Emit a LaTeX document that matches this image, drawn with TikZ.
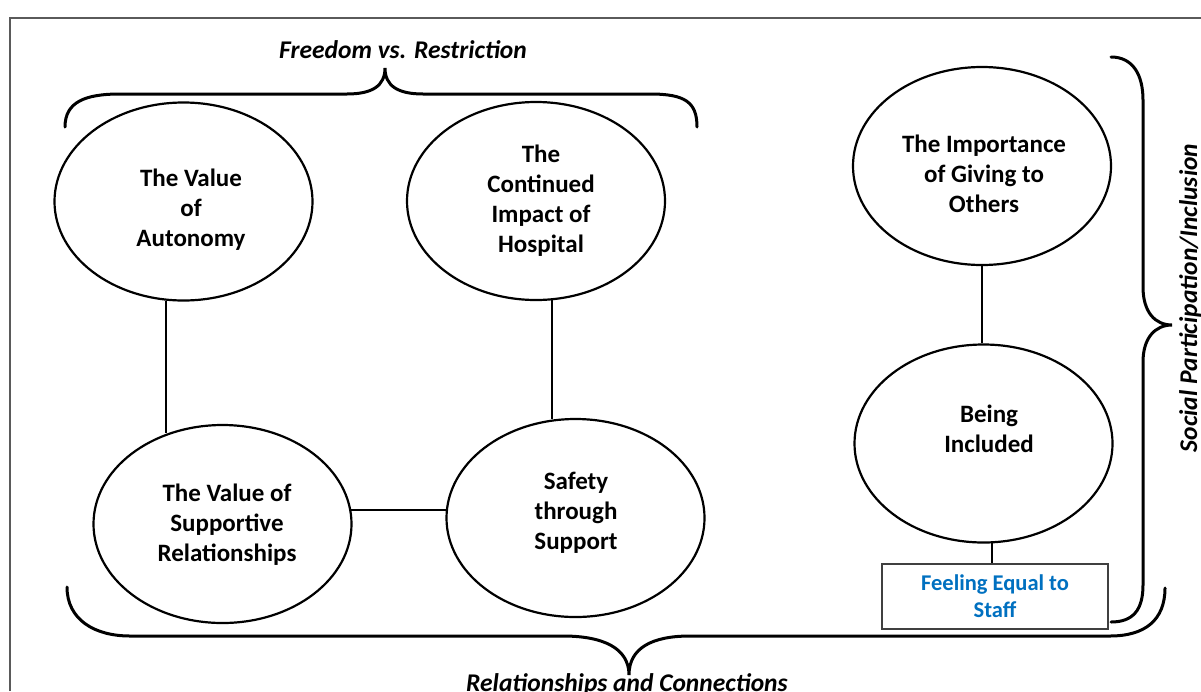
\documentclass[tikz,border=0pt]{standalone}
\usepackage{fontspec}
\setmainfont{Carlito}
\usetikzlibrary{shapes.geometric}
\definecolor{framegray}{HTML}{5A5A5A}
\definecolor{boxgray}{HTML}{404040}
\definecolor{wordblue}{HTML}{0070C0}
\tikzset{
  theme/.style={ellipse, draw=black, line width=2.2pt, inner sep=0pt,
    minimum width=258pt, minimum height=198pt},
  themetext/.style={align=center, font=\bfseries\fontsize{25}{30}\selectfont, inner sep=0pt},
  bracelabel/.style={font=\bfseries\itshape\fontsize{25.5}{28}\selectfont, inner sep=0pt},
  link/.style={line width=2pt},
  bracepath/.style={line width=3pt, line cap=round},
}
\begin{document}
\begin{tikzpicture}[x=1pt, y=-1pt]
\useasboundingbox (0,0) rectangle (1201,691);
% frame
\draw[framegray, line width=1.3pt] (10,691) -- (10,18) -- (1201,18);

% ellipses
\node[theme] (auto) at (183.5,201.5) {};
\node[theme] (hosp) at (536,201) {};
\node[theme] (give) at (982,166) {};
\node[theme] (incl) at (983.5,443.5) {};
\node[theme] (supp) at (222.5,524) {};
\node[theme] (safe) at (575.5,518) {};

% texts
\node[themetext] (autoT) at (191,210) {The Value\\of\\Autonomy};
\node[themetext] (hospT) at (541,201) {The\\Continued\\Impact of\\Hospital};
\node[themetext] (giveT) at (984,174) {The Importance\\of Giving to\\Others};
\node[themetext] (inclT) at (989,429) {Being\\Included};
\node[themetext] (suppT) at (227,525) {The Value of\\Supportive\\Relationships};
\node[themetext] (safeT) at (576,513) {Safety\\through\\Support};

% box
\node[draw=boxgray, line width=1.5pt, minimum width=226pt, minimum height=65pt,
      inner sep=0pt, align=center, text=wordblue,
      font=\bfseries\fontsize{22.5}{27}\selectfont] (feel) at (995,596.5) {Feeling Equal to\\Staff};

% connectors
\draw[link] (auto.260.7) -- (auto.260.7 |- supp.121.5);
\draw[link] (hosp.279.25) -- (hosp.279.25 |- safe.103.3);
\draw[link] (supp.6.2) -- (supp.6.2 -| safe.176.45);
\draw[link] (give.south) -- (give.south |- incl.north);
\draw[link] (incl.275.8) -- (incl.275.8 |- feel.north);

% braces
\draw[bracepath] (65,127) .. controls (65,102) and (85,94) .. (120,94) -- (347,94)
  .. controls (372,94) and (385,86) .. (385,68)
  .. controls (385,86) and (398,94) .. (423,94) -- (650,94)
  .. controls (685,94) and (697,102) .. (697,127);
\draw[bracepath] (67,587) .. controls (67,620) and (95,636) .. (130,636) -- (563,636)
  .. controls (603,636) and (629,648) .. (629,675)
  .. controls (629,648) and (652,636) .. (690,636) -- (1110,636)
  .. controls (1145,636) and (1165,620) .. (1165,588);
\draw[bracepath] (1111,57) .. controls (1133,57) and (1143,75) .. (1143,100) -- (1143,287)
  .. controls (1143,312) and (1155,325) .. (1172,325)
  .. controls (1155,325) and (1143,338) .. (1143,362) -- (1143,585)
  .. controls (1143,610) and (1133,622) .. (1111,622);

% brace labels
\node[bracelabel, anchor=base] (freeL) at (403,58) {Freedom vs. Restriction};
\node[bracelabel, anchor=base] (relL) at (627,691) {Relationships and Connections};
\node[bracelabel, anchor=base, rotate=90] (socL) at (1197,298) {Social Participation/Inclusion};
\end{tikzpicture}
\end{document}
